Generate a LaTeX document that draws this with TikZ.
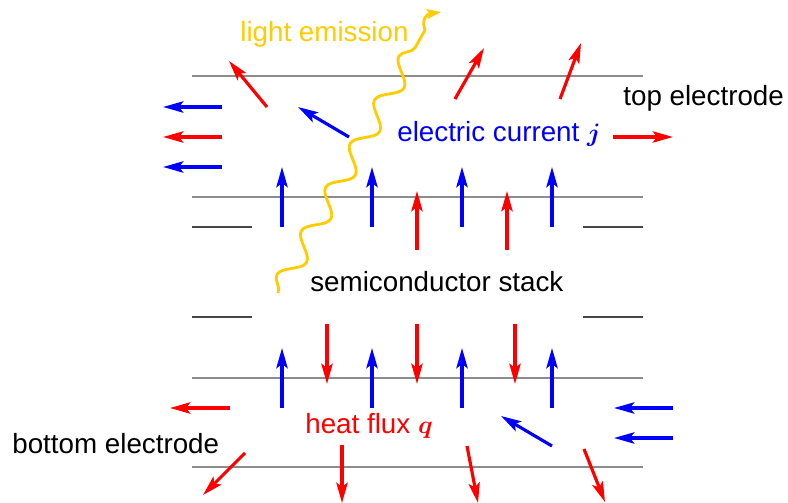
\documentclass[tikz,border=0pt]{standalone}
\usepackage{amsmath,amssymb}
\usepackage{fontspec}
\setmainfont{Liberation Sans}
\usepackage{xcolor}
\usetikzlibrary{arrows.meta,decorations.pathmorphing}

\definecolor{emission}{RGB}{255,204,0}
\definecolor{layergray}{RGB}{140,140,140}
\definecolor{edgegray}{RGB}{70,70,70}

\tikzset{
  jarrow/.style={blue, line width=1.8pt, -{Stealth[length=11.5pt, width=6.4pt, inset=2.4pt]}},
  qarrow/.style={red, line width=1.8pt, -{Stealth[length=11.5pt, width=6.4pt, inset=2.4pt]}},
  layer/.style={layergray, line width=1.1pt},
  stackedge/.style={edgegray, line width=0.6pt},
  annot/.style={inner sep=0pt, anchor=base west, font=\fontsize{15.8}{19}\selectfont},
}

\begin{document}
\begin{tikzpicture}[x=0.02cm, y=-0.02cm]
  \useasboundingbox (0,0) rectangle (788,503);

  % Electrodes and stack
  \draw[layer] (192,76) -- (643,76);
  \draw[layer] (192,197) -- (643,197);
  \draw[layer] (192,378) -- (643,378);
  \draw[layer] (192,467) -- (643,467);
  \draw[stackedge] (192,227) -- (252,227);
  \draw[stackedge] (583,227) -- (643,227);
  \draw[stackedge] (192,317) -- (252,317);
  \draw[stackedge] (583,317) -- (643,317);

  % Labels
  \node[annot, emission] (emit) at (240,42) {light emission};
  \node[annot] (topel) at (623,106) {top electrode};
  \node[annot, blue] (curr) at (397,142) {electric current $\boldsymbol{j}$};
  \node[annot] (stack) at (310,292) {semiconductor stack};
  \node[annot, red] (heat) at (305,433) {heat flux $\boldsymbol{q}$};
  \node[annot] (botel) at (12,453) {bottom electrode};

  % Light ray
  \coordinate (raystart) at (278,293);
  \coordinate (raybend) at (425,30);
  \coordinate (raytip) at (441,12);
  \draw[emission, line width=1.6pt, -{Stealth[length=8pt, width=5.5pt, inset=1.5pt]}]
    (raystart) decorate[decoration={snake, segment length=1cm, amplitude=0.2cm}] {-- (raybend)}
    .. controls (421,19) and (427,14) .. (raytip);

  % Top electrode
  \draw[jarrow] (222,107) -- (163,107);
  \draw[qarrow] (222,137) -- (163,137);
  \draw[jarrow] (222,167) -- (163,167);
  \draw[qarrow] (267,107) -- (229,61);
  \draw[jarrow] (349,137) -- (298,107);
  \draw[qarrow] (455,99) -- (484,48);
  \draw[qarrow] (560,99) -- (581,43);
  \draw[qarrow] (613,137) -- (673,137);

  % Upper stack interface
  \draw[jarrow] (282,227) -- (282,167);
  \draw[jarrow] (372,227) -- (372,167);
  \draw[jarrow] (462,227) -- (462,167);
  \draw[jarrow] (552,227) -- (552,167);
  \draw[qarrow] (417,250) -- (417,191);
  \draw[qarrow] (507,250) -- (507,191);

  % Lower stack interface
  \draw[qarrow] (327,324) -- (327,384);
  \draw[qarrow] (417,324) -- (417,384);
  \draw[qarrow] (515,324) -- (515,384);
  \draw[jarrow] (282,408) -- (282,348);
  \draw[jarrow] (372,408) -- (372,348);
  \draw[jarrow] (462,408) -- (462,348);
  \draw[jarrow] (552,408) -- (552,348);

  % Bottom electrode
  \draw[qarrow] (230,408) -- (170,408);
  \draw[qarrow] (245,453) -- (203,495);
  \draw[qarrow] (342,445) -- (342,503);
  \draw[qarrow] (467,446) -- (478,503);
  \draw[qarrow] (584,449) -- (605,502);
  \draw[jarrow] (552,446) -- (501,416);
  \draw[jarrow] (673,408) -- (614,408);
  \draw[jarrow] (673,438) -- (614,438);
\end{tikzpicture}
\end{document}
